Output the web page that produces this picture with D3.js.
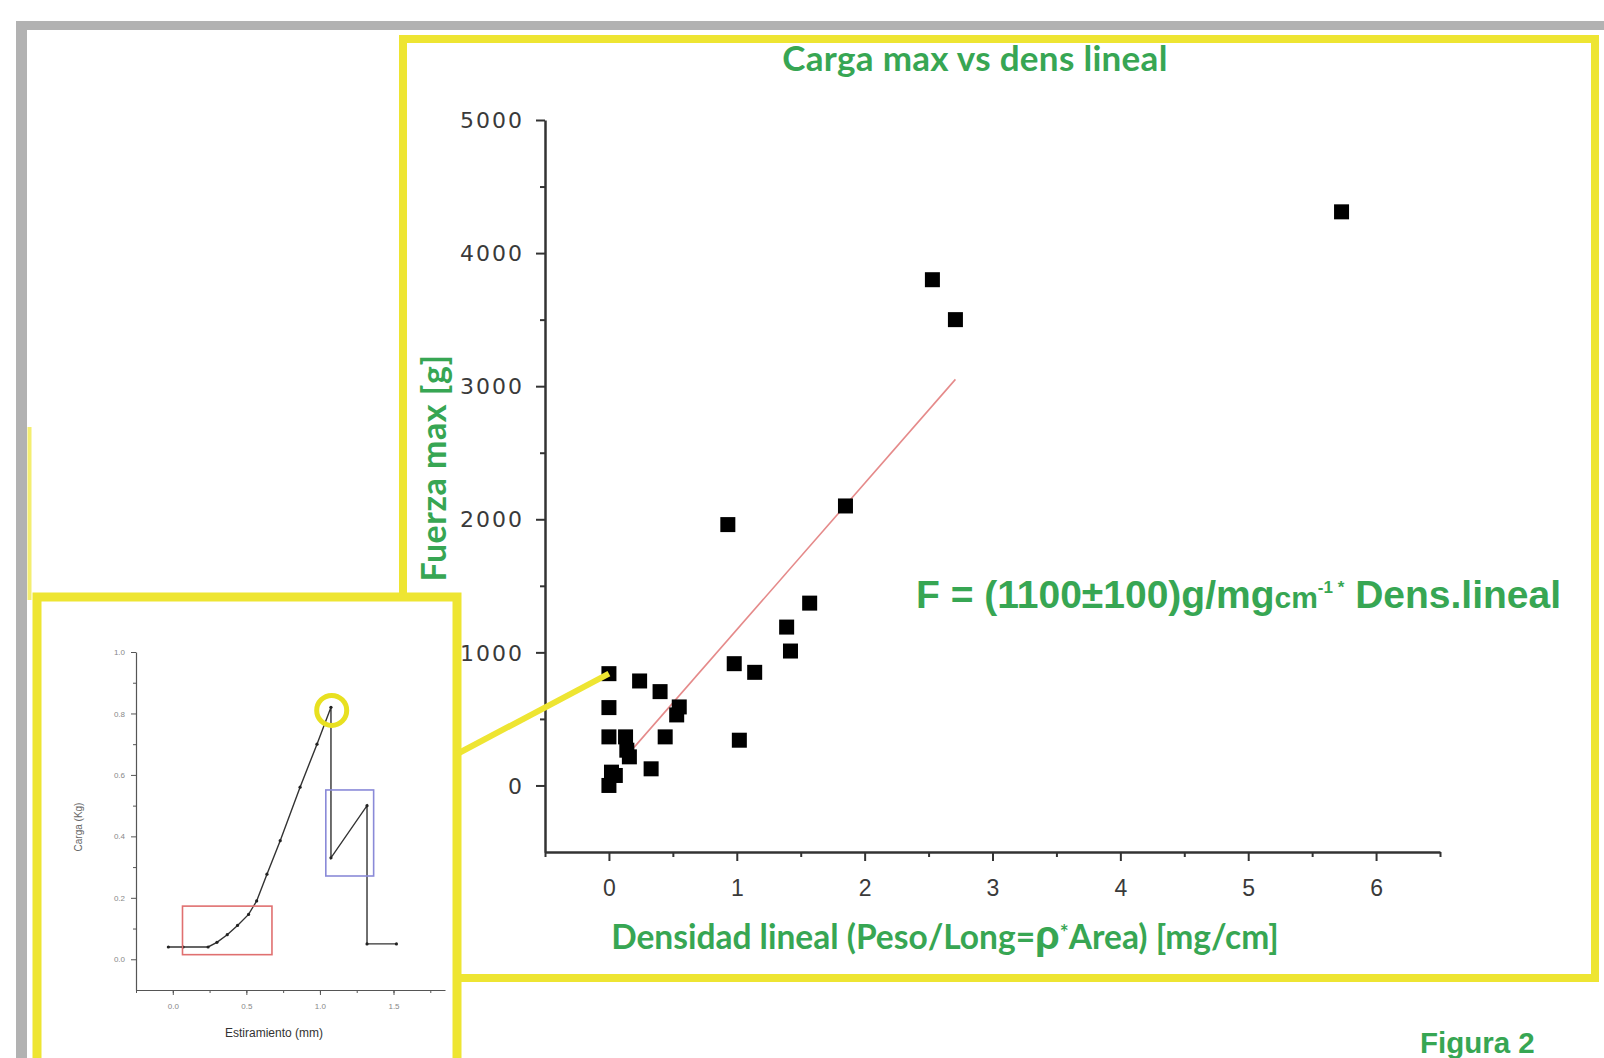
<!DOCTYPE html>
<html>
<head>
<meta charset="utf-8">
<script src="https://cdn.jsdelivr.net/npm/d3@7"></script>
<style>
  body { margin: 0; background: #fff; }
  svg { display: block; }
</style>
</head>
<body>
<div id="chart"></div>
<script>
// main scatter: densidad lineal [mg/cm] vs fuerza max [g]
const densLineal = [5.73, 2.53, 2.71, 1.85, 0.93, 1.57, 1.39, 1.42, 0.98, 1.14, 1.02,
                    0, 0.24, 0.40, 0.55, 0.53, 0, 0.44, 0, 0.13, 0.14, 0.16, 0.33, 0.02, 0.05, 0];
const fuerzaMax = [4310, 3800, 3500, 2100, 1960, 1370, 1190, 1010, 915, 850, 340,
                   840, 785, 705, 590, 530, 585, 365, 365, 365, 265, 215, 125, 100, 75, 0];
const highlighted = 11; // point linked to the inset

// linear fit drawn in red
const fitX = [0.14, 2.71];
const fitSlope = 1100, fitIntercept = 70;

const xTicks = [0, 1, 2, 3, 4, 5, 6];
const yTicks = [0, 1000, 2000, 3000, 4000, 5000];

// inset: carga vs estiramiento
const stretch = [-0.03, 0.07, 0.24, 0.30, 0.37, 0.44, 0.515, 0.57, 0.64, 0.73, 0.865, 0.98, 1.075, 1.075, 1.32, 1.32, 1.52];
const load    = [0.04, 0.04, 0.04, 0.055, 0.08, 0.11, 0.146, 0.19, 0.277, 0.386, 0.56, 0.70, 0.82, 0.33, 0.50, 0.05, 0.05];
const insetXTicks = [0, 0.5, 1.0, 1.5];
const insetYTicks = [0, 0.2, 0.4, 0.6, 0.8, 1.0];
const redBox = { x: [0.066, 0.674], y: [0.015, 0.173] };
const blueBox = { x: [1.04, 1.365], y: [0.271, 0.551] };
const peak = [1.08, 0.81];

const W = 1604, H = 1058;
const green = "#37a653", yellow = "#eee532";

const svg = d3.select("#chart").append("svg")
    .attr("width", W)
    .attr("height", H);

// grey page frame
svg.append("rect").attr("x", 16).attr("y", 21).attr("width", W - 16).attr("height", 9).attr("fill", "#b2b2b2");
svg.append("rect").attr("x", 16).attr("y", 21).attr("width", 11).attr("height", H - 21).attr("fill", "#b2b2b2");
svg.append("line").attr("x1", 29.5).attr("x2", 29.5).attr("y1", 427).attr("y2", 600)
    .attr("stroke", "#f4ee70").attr("stroke-width", 4);

// main yellow box
svg.append("rect")
    .attr("x", 403).attr("y", 39).attr("width", 1192).attr("height", 939)
    .attr("fill", "#fff").attr("stroke", yellow).attr("stroke-width", 8);

// scales
const x = d3.scaleLinear().domain([-0.5, 6.5]).range([545, 1440]);
const y = d3.scaleLinear().domain([-500, 5000]).range([852, 120]);

const axisColor = "#333";

// minor ticks first
svg.append("g")
    .attr("transform", `translate(0,${y(-500)})`)
    .call(d3.axisBottom(x).tickValues(d3.range(-0.5, 6.6, 1)).tickSize(5).tickFormat("").tickSizeOuter(0))
    .call(g => g.select(".domain").remove())
    .call(g => g.selectAll("line").attr("stroke", axisColor).attr("stroke-width", 2));
svg.append("g")
    .attr("transform", `translate(${x(-0.5)},0)`)
    .call(d3.axisLeft(y).tickValues(d3.range(500, 5000, 1000)).tickSize(5).tickFormat("").tickSizeOuter(0))
    .call(g => g.select(".domain").remove())
    .call(g => g.selectAll("line").attr("stroke", axisColor).attr("stroke-width", 2));

const xAxis = svg.append("g")
    .attr("transform", `translate(0,${y(-500)})`)
    .call(d3.axisBottom(x).tickValues(xTicks).tickSize(9).tickPadding(19).tickFormat(d3.format("d")).tickSizeOuter(0));
const yAxis = svg.append("g")
    .attr("transform", `translate(${x(-0.5)},0)`)
    .call(d3.axisLeft(y).tickValues(yTicks).tickSize(9).tickPadding(12).tickFormat(d3.format("d")).tickSizeOuter(0));

[xAxis, yAxis].forEach(g => {
  g.select(".domain").attr("stroke", axisColor).attr("stroke-width", 2.5);
  g.selectAll(".tick line").attr("stroke", axisColor).attr("stroke-width", 2);
  g.selectAll(".tick text")
    .attr("fill", "#3a3a3a")
    .style("font-family", "'DejaVu Sans', sans-serif")
    .style("font-size", "22px");
});
yAxis.selectAll(".tick text").attr("dy", "0.35em").style("letter-spacing", "2px");
xAxis.selectAll(".tick text").style("font-family", "'Liberation Sans', Arial, sans-serif").style("font-size", "23px");

// fit line
svg.append("line")
    .attr("x1", x(fitX[0])).attr("y1", y(fitIntercept + fitSlope * fitX[0]))
    .attr("x2", x(fitX[1])).attr("y2", y(fitIntercept + fitSlope * fitX[1]))
    .attr("stroke", "#e58a8a").attr("stroke-width", 1.6);

// points
const pts = d3.range(densLineal.length);
svg.append("g").selectAll("rect")
    .data(pts)
    .join("rect")
    .attr("x", i => x(densLineal[i]) - 7.5)
    .attr("y", i => y(fuerzaMax[i]) - 7.5)
    .attr("width", 15).attr("height", 15)
    .attr("fill", "#000");

// texts
svg.append("text")
    .attr("x", 975).attr("y", 71)
    .attr("text-anchor", "middle")
    .attr("fill", green)
    .style("font-family", "Lato, sans-serif").style("font-weight", 700).style("font-size", "35px")
    .style("letter-spacing", "0.3px")
    .text("Carga max vs dens lineal");

svg.append("text")
    .attr("transform", "translate(446,468) rotate(-90)")
    .attr("text-anchor", "middle")
    .attr("fill", green)
    .style("font-family", "Lato, sans-serif").style("font-weight", 700).style("font-size", "34px")
    .style("letter-spacing", "0.5px")
    .text("Fuerza max [g]");

const xl = svg.append("text")
    .attr("x", 945).attr("y", 949)
    .attr("text-anchor", "middle")
    .attr("fill", green)
    .style("font-family", "Lato, sans-serif").style("font-weight", 700).style("font-size", "33.5px");
xl.append("tspan").text("Densidad lineal (Peso/Long=");
xl.append("tspan").style("font-family", "'Liberation Sans', Arial, sans-serif").style("font-size", "40px").text("ρ");
xl.append("tspan").style("font-size", "21px").attr("dy", -9).text("*");
xl.append("tspan").attr("dy", 9).text("Area) [mg/cm]");

const eq = svg.append("text")
    .attr("x", 916).attr("y", 608)
    .attr("fill", green)
    .style("font-family", "'Liberation Sans', Arial, sans-serif").style("font-weight", 700).style("font-size", "39px");
eq.append("tspan").text("F = (1100±100)g/mg");
eq.append("tspan").style("font-size", "30px").text("cm");
eq.append("tspan").style("font-size", "17px").attr("dy", -15).text("-1 *");
eq.append("tspan").attr("dy", 15).text(" Dens.lineal");

svg.append("text")
    .attr("x", 1420).attr("y", 1053)
    .attr("fill", green)
    .style("font-family", "'Liberation Sans', Arial, sans-serif").style("font-weight", 700).style("font-size", "29.5px")
    .text("Figura 2");

// ---- inset ----
svg.append("rect")
    .attr("x", 37).attr("y", 597).attr("width", 420).attr("height", 520)
    .attr("fill", "#fff").attr("stroke", yellow).attr("stroke-width", 9);

const ix = d3.scaleLinear().domain([-0.25, 1.85]).range([136, 445]);
const iy = d3.scaleLinear().domain([-0.1, 1.0]).range([990, 652]);
const insetColor = "#555";

svg.append("g")
    .attr("transform", `translate(0,${iy(-0.1)})`)
    .call(d3.axisBottom(ix).tickValues(d3.range(-0.25, 1.9, 0.25)).tickSize(3).tickFormat("").tickSizeOuter(0))
    .call(g => g.select(".domain").remove())
    .call(g => g.selectAll("line").attr("stroke", insetColor));
svg.append("g")
    .attr("transform", `translate(${ix(-0.25)},0)`)
    .call(d3.axisLeft(iy).tickValues(d3.range(0.1, 1.0, 0.2)).tickSize(3).tickFormat("").tickSizeOuter(0))
    .call(g => g.select(".domain").remove())
    .call(g => g.selectAll("line").attr("stroke", insetColor));

const ixAxis = svg.append("g")
    .attr("transform", `translate(0,${iy(-0.1)})`)
    .call(d3.axisBottom(ix).tickValues(insetXTicks).tickSize(5).tickPadding(8).tickFormat(d3.format(".1f")).tickSizeOuter(0));
const iyAxis = svg.append("g")
    .attr("transform", `translate(${ix(-0.25)},0)`)
    .call(d3.axisLeft(iy).tickValues(insetYTicks).tickSize(5).tickPadding(6).tickFormat(d3.format(".1f")).tickSizeOuter(0));
[ixAxis, iyAxis].forEach(g => {
  g.select(".domain").attr("stroke", insetColor).attr("stroke-width", 1.2);
  g.selectAll(".tick line").attr("stroke", insetColor);
  g.selectAll(".tick text").attr("fill", "#888")
    .style("font-family", "'Liberation Sans', Arial, sans-serif").style("font-size", "8px");
});

svg.append("path")
    .datum(d3.range(stretch.length))
    .attr("fill", "none")
    .attr("stroke", "#333")
    .attr("stroke-width", 1.4)
    .attr("d", d3.line().x(i => ix(stretch[i])).y(i => iy(load[i])));
svg.append("g").selectAll("circle")
    .data(d3.range(stretch.length))
    .join("circle")
    .attr("cx", i => ix(stretch[i])).attr("cy", i => iy(load[i]))
    .attr("r", 1.6).attr("fill", "#222");

svg.append("rect")
    .attr("x", ix(redBox.x[0])).attr("y", iy(redBox.y[1]))
    .attr("width", ix(redBox.x[1]) - ix(redBox.x[0]))
    .attr("height", iy(redBox.y[0]) - iy(redBox.y[1]))
    .attr("fill", "none").attr("stroke", "#e07070").attr("stroke-width", 1.6);
svg.append("rect")
    .attr("x", ix(blueBox.x[0])).attr("y", iy(blueBox.y[1]))
    .attr("width", ix(blueBox.x[1]) - ix(blueBox.x[0]))
    .attr("height", iy(blueBox.y[0]) - iy(blueBox.y[1]))
    .attr("fill", "none").attr("stroke", "#8a8ad8").attr("stroke-width", 1.6);
svg.append("circle")
    .attr("cx", ix(peak[0])).attr("cy", iy(peak[1]))
    .attr("r", 15).attr("fill", "none").attr("stroke", "#e8e020").attr("stroke-width", 5);

svg.append("text")
    .attr("transform", "translate(82,827) rotate(-90)")
    .attr("text-anchor", "middle").attr("fill", "#666")
    .style("font-family", "'Liberation Sans', Arial, sans-serif").style("font-size", "10px")
    .text("Carga (Kg)");
svg.append("text")
    .attr("x", 274).attr("y", 1037)
    .attr("text-anchor", "middle").attr("fill", "#333")
    .style("font-family", "'Liberation Sans', Arial, sans-serif").style("font-size", "12px")
    .text("Estiramiento (mm)");

// yellow connector from inset to the highlighted point
svg.append("line")
    .attr("x1", 457).attr("y1", 754)
    .attr("x2", x(densLineal[highlighted])).attr("y2", y(fuerzaMax[highlighted]))
    .attr("stroke", yellow).attr("stroke-width", 6);
</script>
</body>
</html>
